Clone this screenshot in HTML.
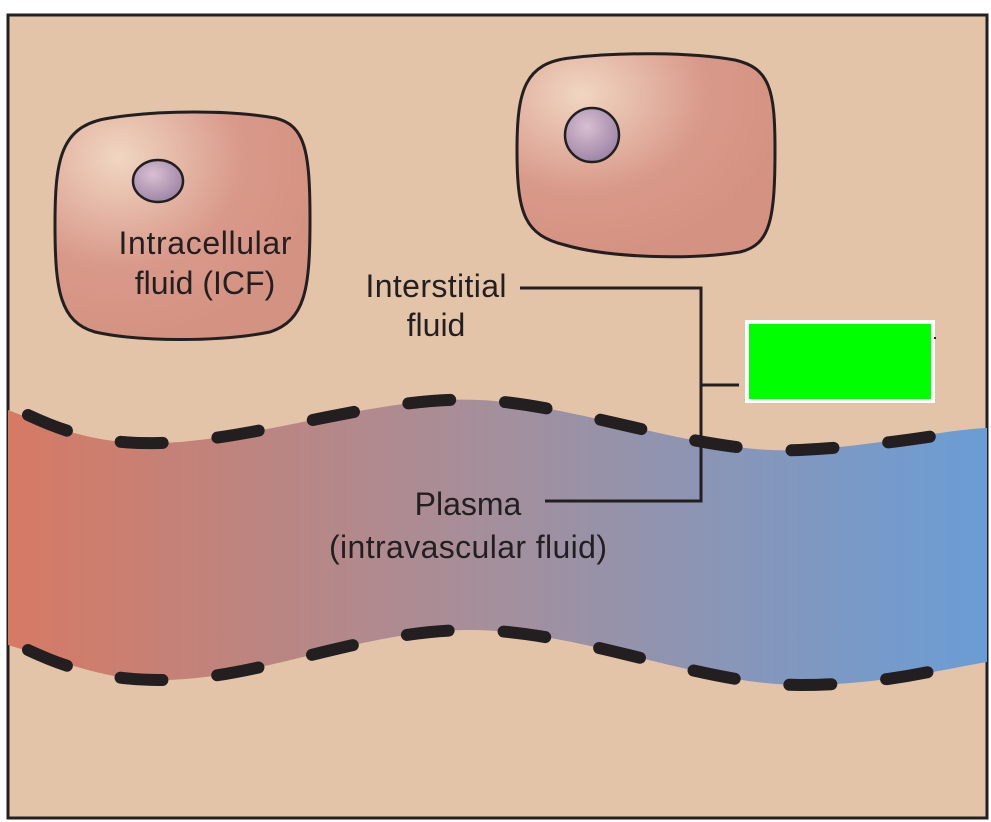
<!DOCTYPE html>
<html><head><style>
html,body{margin:0;padding:0;background:#fff;}
svg{display:block;}
text{font-family:"Liberation Sans",sans-serif;font-size:32px;fill:#231f20;}
</style></head><body>
<svg width="991" height="822" viewBox="0 0 991 822" xmlns="http://www.w3.org/2000/svg">
<defs>
<linearGradient id="v" x1="0" x2="1" y1="0" y2="0">
<stop offset="0" stop-color="#d67a64"/>
<stop offset="0.5" stop-color="#a48f9c"/>
<stop offset="1" stop-color="#6a9dd6"/>
</linearGradient>
<radialGradient id="c1" cx="0.25" cy="0.2" r="0.8">
<stop offset="0" stop-color="#f0d6c2"/>
<stop offset="0.6" stop-color="#d9998a"/>
<stop offset="1" stop-color="#d49282"/>
</radialGradient>
<radialGradient id="n" cx="0.4" cy="0.35" r="0.7">
<stop offset="0" stop-color="#d8c0d2"/>
<stop offset="1" stop-color="#9c82a4"/>
</radialGradient>
</defs>
<rect x="8" y="15" width="979" height="803" fill="#e4c4a8" stroke="#231f20" stroke-width="3"/>
<path d="M8,410 C60,430 100,445 160,443 C260,440 380,395 480,400 C580,405 700,455 800,450 C880,446 940,430 987,428 L987,662 C940,670 880,685 800,685 C700,685 580,630 470,630 C360,630 260,680 160,680 C100,680 60,660 8,645 Z" fill="url(#v)"/>
<path d="M28,415 C60,430 100,445 160,443 C260,440 380,395 480,400 C580,405 700,455 800,450 C880,446 940,435 972,430" fill="none" stroke="#231f20" stroke-width="12" stroke-linecap="round" stroke-dasharray="42 55"/>
<path d="M28,650 C60,665 100,680 160,680 C260,680 360,630 470,630 C580,630 700,685 800,685 C880,685 940,670 972,662" fill="none" stroke="#231f20" stroke-width="12" stroke-linecap="round" stroke-dasharray="42 55"/>
<path d="M110,118 C160,110 230,110 275,118 C305,125 310,150 310,220 C310,290 305,320 270,332 C220,342 140,342 95,332 C60,322 55,290 55,225 C55,160 60,125 110,118 Z" fill="url(#c1)" stroke="#231f20" stroke-width="3"/>
<path d="M570,58 C620,52 690,52 735,60 C770,68 775,90 775,150 C775,220 770,245 740,252 C690,260 610,258 565,245 C525,235 517,215 517,150 C517,90 525,63 570,58 Z" fill="url(#c1)" stroke="#231f20" stroke-width="3"/>
<ellipse cx="158" cy="181" rx="25" ry="21" fill="url(#n)" stroke="#231f20" stroke-width="2.5"/>
<circle cx="592" cy="135" r="27" fill="url(#n)" stroke="#231f20" stroke-width="2.5"/>
<text x="205" y="254" text-anchor="middle" textLength="173">Intracellular</text>
<text x="205" y="294" text-anchor="middle">fluid (ICF)</text>
<text x="436" y="297" text-anchor="middle" textLength="141">Interstitial</text>
<text x="436" y="336" text-anchor="middle">fluid</text>
<text x="468" y="515" text-anchor="middle">Plasma</text>
<text x="468" y="558" text-anchor="middle" textLength="278">(intravascular fluid)</text>
<path d="M520,288 H701 V501 H545 M701,385 H739" fill="none" stroke="#231f20" stroke-width="3"/>
<rect x="747" y="322" width="186" height="79" fill="#00ff00" stroke="#fff" stroke-width="4"/>
<rect x="934" y="337" width="2" height="2" fill="#231f20"/>
</svg>
</body></html>
